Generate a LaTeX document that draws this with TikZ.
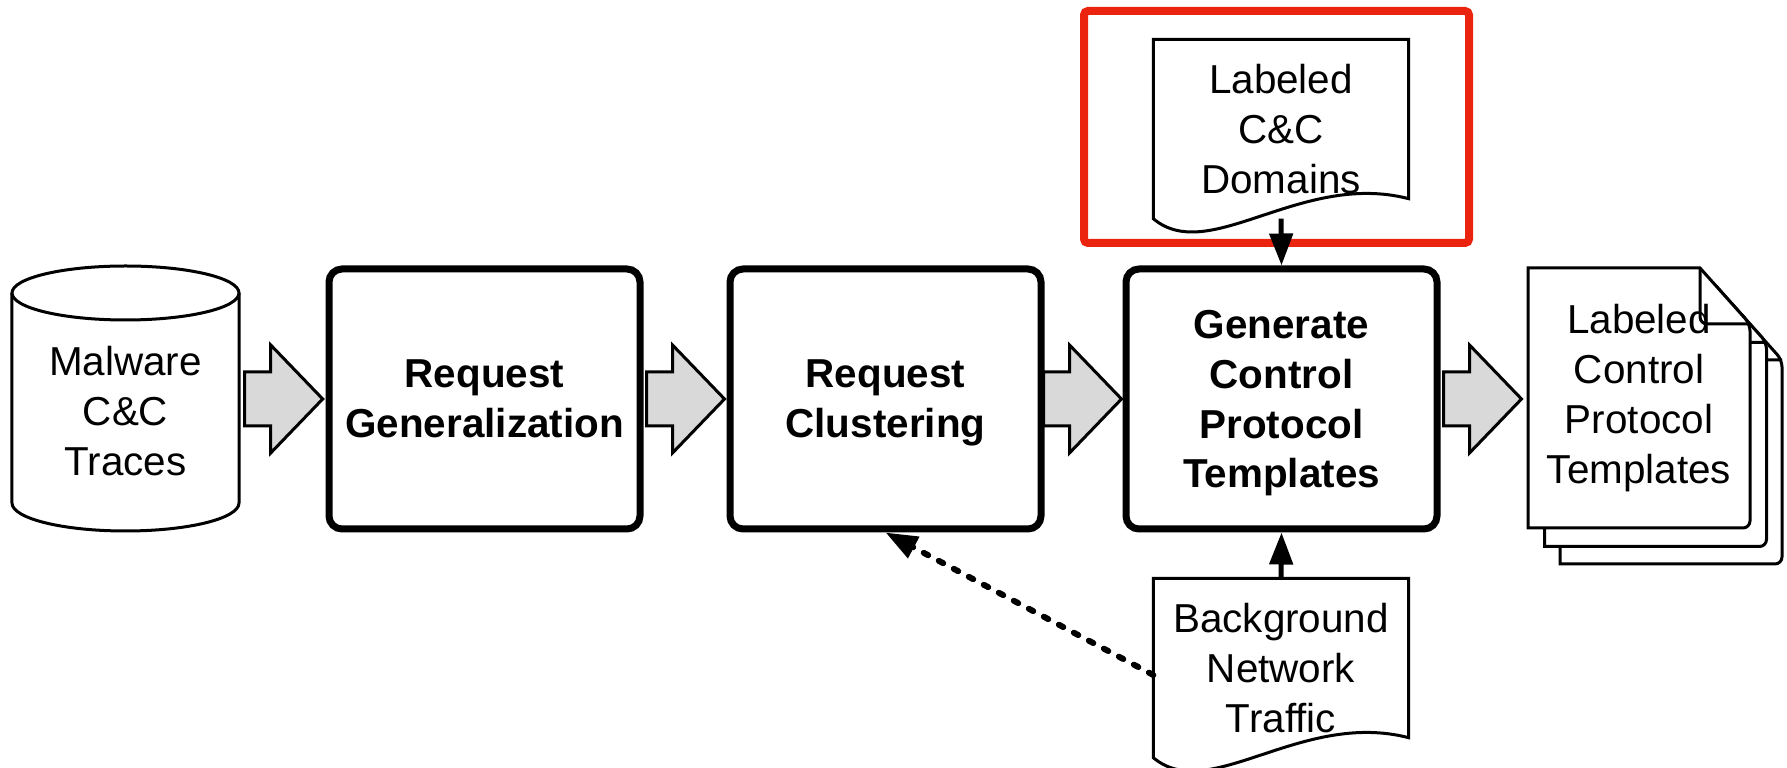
\documentclass[tikz,border=0pt]{standalone}
\usepackage{fontspec}
\setmainfont{Liberation Sans}
\usepackage{tikz}
\usepackage{xcolor}
\usetikzlibrary{arrows.meta,calc}
\definecolor{hiliteRed}{RGB}{234,36,14}
\definecolor{arrowGray}{RGB}{217,217,217}

% big grey block arrow, drawn from the left end of its shaft
\newcommand{\fatarrow}[1]{%
  \draw[fatarrow] (#1) ++(0,0.27) -- ++(0.26,0) -- ++(0,0.27) -- ++(0.52,-0.54)
    -- ++(-0.52,-0.54) -- ++(0,0.27) -- ++(-0.26,0) -- cycle;}
% document with a wavy bottom edge round a node
\newcommand{\docoutline}[1]{%
  \draw[thinline] (#1.south west) -- (#1.north west) -- (#1.north east)
    -- ($(#1.south east)+(0,0.2)$) .. controls +(-1.08,0.28) and +(0.56,-0.47) .. (#1.south west) -- cycle;}
% one sheet of the output stack, lower left corner given
\newcommand{\pagesheet}[2]{%
  \draw[thinline, fill=white] (#1,#2) -- ++(0,2.60) -- ++(1.72,0) [rounded corners=2pt]
    -- ++(0.50,-0.56) -- ++(0,-2.04) [sharp corners] -- cycle;
  \draw[thinline, rounded corners=2pt] (#1,#2) ++(1.72,2.60) -- ++(0,-0.56) -- ++(0.50,0);}

\begin{document}
\begin{tikzpicture}[
    font=\fontsize{11.5}{14.2}\selectfont,
    procbox/.style={draw, line width=0.07cm, rounded corners=0.13cm, minimum width=3.11cm,
      minimum height=2.60cm, align=center, text depth=0pt, font=\fontsize{11.5}{14.2}\selectfont\bfseries},
    docnode/.style={inner sep=0pt, minimum width=2.54cm, minimum height=1.78cm, align=center},
    thinline/.style={line width=0.03cm},
    fatarrow/.style={draw, line width=0.03cm, fill=arrowGray, line join=miter},
    flowarrow/.style={line width=0.05cm, -{Triangle[length=0.32cm,width=0.23cm]}},
    feedback/.style={flowarrow, line width=0.06cm, line cap=round, dash pattern=on 0.05cm off 0.12cm}
  ]
  \useasboundingbox (0,0) rectangle (17.87,7.68);

  % traces database
  \draw[thinline, fill=white] (0.12,4.75) -- (0.12,2.65)
    arc[start angle=180, end angle=360, x radius=1.135, y radius=0.28] -- (2.39,4.75);
  \draw[thinline] (1.255,4.75) ellipse [x radius=1.135, y radius=0.27];
  \node[inner sep=0pt, minimum width=2.27cm, align=center] (traces) at (1.255,3.57) {Malware\\C\&C\\Traces};

  % stages
  \node[procbox] (gen) at (4.845,3.69) {Request\\Generalization};
  \node[procbox] (clus) at (8.855,3.69) {Request\\Clustering};
  \node[procbox] (tmpl) at (12.815,3.69) {Generate\\Control\\Protocol\\Templates};

  % inputs to template generation
  \node[docnode] (dom) at (12.81,6.39) {Labeled\\C\&C\\Domains};
  \docoutline{dom}
  \node[docnode] (traffic) at (12.81,1.00) {Background\\Network\\Traffic};
  \docoutline{traffic}

  % output stack
  \pagesheet{15.60}{2.04}
  \pagesheet{15.445}{2.215}
  \pagesheet{15.28}{2.40}
  \node[align=center, inner sep=0pt] (out) at (16.39,3.70) {Labeled\\Control\\Protocol\\Templates};

  \draw[hiliteRed, line width=0.08cm, rounded corners=0.04cm] (10.84,7.57) rectangle (14.69,5.25);

  \fatarrow{$(traces.east |- gen.east)+(0.05,0)$}
  \fatarrow{$(gen.east)+(0.03,0)$}
  \fatarrow{$(clus.east)+(-0.01,0)$}
  \fatarrow{$(tmpl.east)+(0.03,0)$}

  \draw[flowarrow] (dom.south) -- (tmpl.north);
  \draw[flowarrow] (traffic.north) -- (tmpl.south);
  \draw[feedback] ([yshift=-0.07cm]traffic.west) -- (clus.south);
\end{tikzpicture}
\end{document}
